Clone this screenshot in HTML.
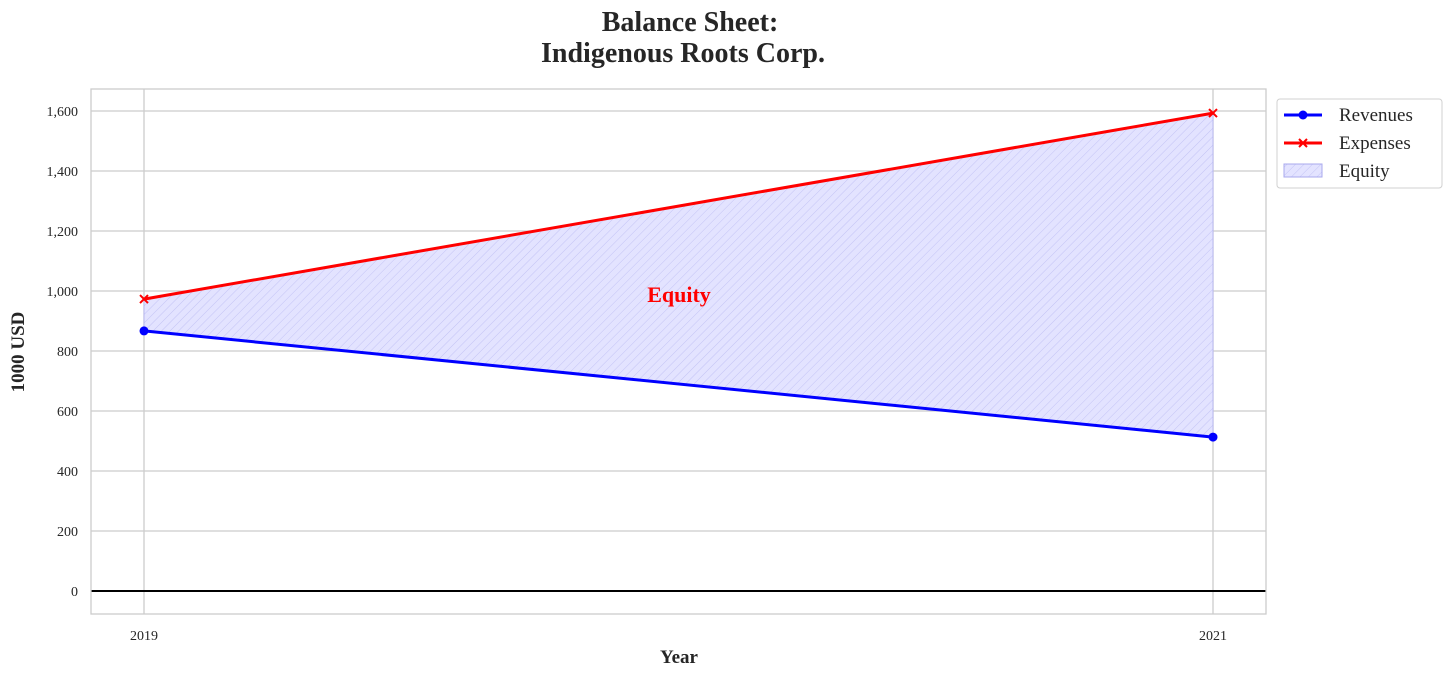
<!DOCTYPE html>
<html><head><meta charset="utf-8"><style>
body{margin:0;background:#fff;}
svg text{font-family:"Liberation Serif","DejaVu Serif",serif;}
</style></head><body>
<svg width="1452" height="676" xmlns="http://www.w3.org/2000/svg">
<defs>
<pattern id="hatch" patternUnits="userSpaceOnUse" width="6" height="6" patternTransform="rotate(45)">
<rect width="6" height="6" fill="#e3e3ff"/>
<line x1="0" y1="0" x2="0" y2="6" stroke="#c3c3f5" stroke-width="1"/>
</pattern>
<clipPath id="plotclip"><rect x="91" y="89" width="1175" height="525"/></clipPath>
</defs>
<text x="690" y="31" text-anchor="middle" font-size="28" font-weight="bold" fill="#262626">Balance Sheet:</text>
<text x="683" y="62" text-anchor="middle" font-size="28" font-weight="bold" fill="#262626">Indigenous Roots Corp.</text>
<g id="grid"></g>
<g id="marks" clip-path="url(#plotclip)"></g>
<rect x="91" y="89" width="1175" height="525" fill="none" stroke="#cccccc" stroke-width="1.3"/>
<g id="ticks"></g>
<text x="679" y="663" text-anchor="middle" font-size="19" font-weight="bold" fill="#262626">Year</text>
<text transform="translate(24,352) rotate(-90)" text-anchor="middle" font-size="19" font-weight="bold" fill="#262626">1000 USD</text>
<g>
<rect x="1277" y="99" width="165" height="89" rx="3" fill="#fff" stroke="#d0d0d0"/>
<g>
<line x1="1284" y1="115" x2="1322" y2="115" stroke="#0000ff" stroke-width="3"/><circle cx="1303" cy="115" r="4.5" fill="#0000ff"/>
<text x="1339" y="121" font-size="19" fill="#262626">Revenues</text></g>
<g>
<line x1="1284" y1="143" x2="1322" y2="143" stroke="#ff0000" stroke-width="3"/><path d="M1299 139 l8 8 M1307 139 l-8 8" stroke="#ff0000" stroke-width="2"/>
<text x="1339" y="149" font-size="19" fill="#262626">Expenses</text></g>
<g>
<rect x="1284" y="164" width="38" height="13" fill="url(#hatch)" stroke="#a8a8ee"/>
<text x="1339" y="177" font-size="19" fill="#262626">Equity</text></g>
</g>
<script>
const years=[2019,2021];
const revenues=[867,513];
const expenses=[973,1593];
const yTicks=[0,200,400,600,800,1000,1200,1400,1600];
const NS="http://www.w3.org/2000/svg";
const X=v=>144+(v-2019)*(1213-144)/2;
const Y=v=>591-v*0.3;
function mk(tag,at,parent){const e=document.createElementNS(NS,tag);for(const k in at)e.setAttribute(k,at[k]);parent.appendChild(e);return e;}
const grid=document.getElementById('grid'),marks=document.getElementById('marks'),ticks=document.getElementById('ticks');
yTicks.forEach(t=>{
 const l=mk('line',{x1:91,x2:1266,y1:Y(t),y2:Y(t),stroke:'#cccccc','stroke-width':1.3},grid);
 
 
 const tx=mk('text',{x:78,y:Y(t)+5,'text-anchor':'end','font-size':14,fill:'#262626'},ticks);
 tx.textContent=t.toLocaleString('en-US');
 
 
});
years.forEach(y=>{
 const l=mk('line',{x1:X(y),x2:X(y),y1:89,y2:614,stroke:'#cccccc','stroke-width':1.3},grid);
 
 
 const tx=mk('text',{x:X(y),y:640,'text-anchor':'middle','font-size':14,fill:'#262626'},ticks);
 tx.textContent=y;
 
 
});
let d='';years.forEach((y,i)=>d+=(i?'L':'M')+X(y)+' '+Y(expenses[i])+' ');
for(let i=years.length-1;i>=0;i--)d+='L'+X(years[i])+' '+Y(revenues[i])+' ';
const area=mk('path',{d:d+'Z',fill:'url(#hatch)',stroke:'#b8b8f0','stroke-width':1},marks);


const zl=mk('line',{x1:91,x2:1266,y1:Y(0),y2:Y(0),stroke:'#000','stroke-width':2},marks);


const lr=mk('polyline',{points:years.map((y,i)=>X(y)+','+Y(revenues[i])).join(' '),fill:'none',stroke:'#0000ff','stroke-width':3},marks);


const le=mk('polyline',{points:years.map((y,i)=>X(y)+','+Y(expenses[i])).join(' '),fill:'none',stroke:'#ff0000','stroke-width':3},marks);


years.forEach((y,i)=>{
 const c=mk('circle',{cx:X(y),cy:Y(revenues[i]),r:4.5,fill:'#0000ff'},marks);
 
 
 const x=X(y),yy=Y(expenses[i]);
 const p=mk('path',{d:`M${x-4} ${yy-4} l8 8 M${x+4} ${yy-4} l-8 8`,stroke:'#ff0000','stroke-width':2},marks);
 
 
});
const lbl=mk('text',{x:679,y:302,'text-anchor':'middle','font-size':22,'font-weight':'bold',fill:'#ff0000'},marks);
lbl.textContent='Equity';


</script>
</svg>
</body></html>
